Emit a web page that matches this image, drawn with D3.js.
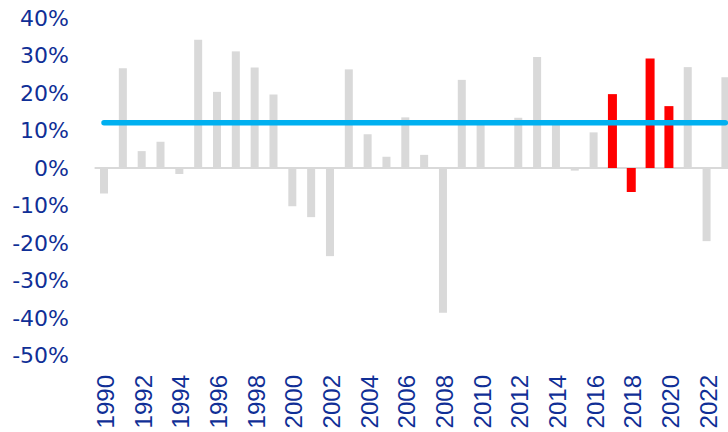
<!DOCTYPE html>
<html>
<head>
<meta charset="utf-8">
<script src="https://cdnjs.cloudflare.com/ajax/libs/d3/7.8.5/d3.min.js"></script>
<style>
  body { margin: 0; background: #fff; }
  svg { display: block; }
  .ylab { font-family: "DejaVu Sans", sans-serif; font-size: 22px; fill: #102f96; }
  .xlab { font-family: "Liberation Sans", Arial, sans-serif; font-size: 24px; fill: #102f96; }
</style>
</head>
<body>
<div id="chart"></div>
<script>
var years = d3.range(1990, 2024);
var returns = [-6.8, 26.6, 4.5, 7.0, -1.6, 34.2, 20.3, 31.1, 26.8, 19.6,
  -10.2, -13.1, -23.5, 26.3, 9.0, 3.0, 13.5, 3.5, -38.6, 23.5,
  11.5, 0, 13.4, 29.6, 11.5, -0.7, 9.5, 19.7, -6.4, 29.2,
  16.5, 26.9, -19.5, 24.2];
var highlightYears = [2017, 2018, 2019, 2020];
var average = 12.1;
var yTicks = [40, 30, 20, 10, 0, -10, -20, -30, -40, -50];
var xTickYears = years.filter(function(d) { return d % 2 === 0; });

var graph = { width: 728, height: 432, left: 94.6, step: 18.83, top: 18, bottom: 355.5 };

var x = d3.scaleBand()
  .domain(years)
  .range([graph.left, graph.left + graph.step * years.length]);
var y = d3.scaleLinear().domain([-50, 40]).range([graph.bottom, graph.top]);

var svg = d3.select('#chart').append('svg')
  .attr('width', graph.width)
  .attr('height', graph.height);

var data = years.map(function(yr, i) {
  return { year: yr, value: returns[i], hot: highlightYears.indexOf(yr) >= 0 };
});

// zero line
svg.append('line')
  .attr('x1', graph.left).attr('x2', graph.width)
  .attr('y1', y(0)).attr('y2', y(0))
  .attr('stroke', '#d9d9d9').attr('stroke-width', 2);

svg.append('g').selectAll('rect')
  .data(data)
  .enter().append('rect')
  .attr('x', function(d) {
    var w = d.hot ? 9 : 8;
    return x(d.year) + x.bandwidth() / 2 - w / 2;
  })
  .attr('width', function(d) { return d.hot ? 9 : 8; })
  .attr('y', function(d) { return y(Math.max(0, d.value)); })
  .attr('height', function(d) { return Math.abs(y(d.value) - y(0)); })
  .attr('fill', function(d) { return d.hot ? '#ff0000' : '#d9d9d9'; });

// average line
svg.append('line')
  .attr('x1', x(1990) + x.bandwidth() / 2)
  .attr('x2', x(2023) + x.bandwidth() / 2)
  .attr('y1', y(average)).attr('y2', y(average))
  .attr('stroke', '#00b0f0')
  .attr('stroke-width', 5.5)
  .attr('stroke-linecap', 'round');

svg.append('g').selectAll('text')
  .data(yTicks)
  .enter().append('text')
  .attr('class', 'ylab')
  .attr('x', 69)
  .attr('y', function(d) { return y(d); })
  .attr('dy', '0.36em')
  .attr('text-anchor', 'end')
  .text(function(d) { return d + '%'; });

svg.append('g').selectAll('text')
  .data(xTickYears)
  .enter().append('text')
  .attr('class', 'xlab')
  .attr('text-anchor', 'end')
  .attr('transform', function(d) {
    return 'translate(' + (x(d) + x.bandwidth() / 2 + 10) + ',375) rotate(-90)';
  })
  .text(function(d) { return d; });
</script>
</body>
</html>
